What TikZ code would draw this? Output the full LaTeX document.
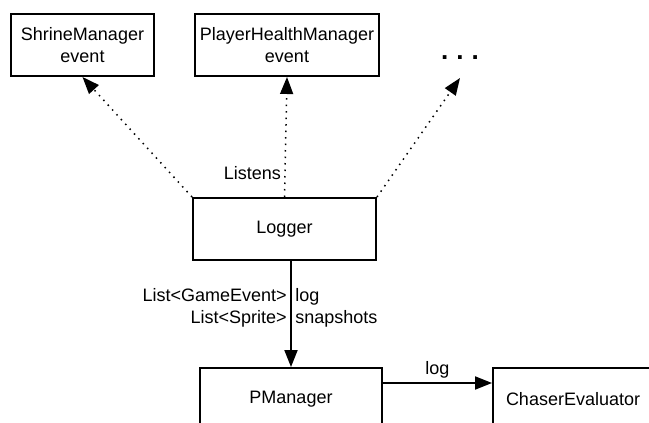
\documentclass[tikz,border=0pt]{standalone}
\usepackage{fontspec}
\setmainfont{Liberation Sans}
\usetikzlibrary{arrows.meta}
\begin{document}
\begin{tikzpicture}[
    x=1pt,
    y=-1pt,
    font=\fontsize{18}{22}\selectfont,
    box/.style={draw, line width=2pt, align=center, minimum height=62pt},
    e/.style={draw, line width=2pt, -{Triangle[length=17pt, width=13pt]}},
    listen/.style={draw, line width=1.5pt, dash pattern=on 1.5pt off 5pt, -{Triangle[length=17pt, width=13pt]}},
]
    \useasboundingbox (0, 0) rectangle (649, 423);

    \node[box, minimum width=143pt] (shrine) at (82.5, 45) {ShrineManager\\event};
    \node[box, minimum width=184pt] (player) at (287, 45) {PlayerHealthManager\\event};
    \node[font=\fontsize{26}{26}\selectfont\bfseries] (more) at (460, 58) {.\hspace{8pt}.\hspace{8pt}.};
    \coordinate (moretip) at (460, 78);
    \node[box, minimum width=183pt] (logger) at (284.5, 229) {Logger};
    \node[box, minimum width=182pt] (pman) at (291, 399) {PManager};
    \node[box, anchor=west, text width=150pt, align=left, inner xsep=13pt] (chaser) at (492, 399) {ChaserEvaluator};

    \path[listen] (logger.north west) -- (shrine.south);
    \path[listen] (logger.north) -- node[pos=0.2, left] {Listens} (player.south);
    \path[listen] (logger.north east) -- (moretip);

    \path[e] (logger.south -| pman.north) -- node[pos=0.44, left, align=right] {List<GameEvent>\\List<Sprite>} node[pos=0.44, right, align=left] {log\\snapshots} (pman.north);
    \path[e] ([yshift=16pt]pman.east) -- node[midway, above] {log} ([yshift=16pt]chaser.west);
\end{tikzpicture}
\end{document}
